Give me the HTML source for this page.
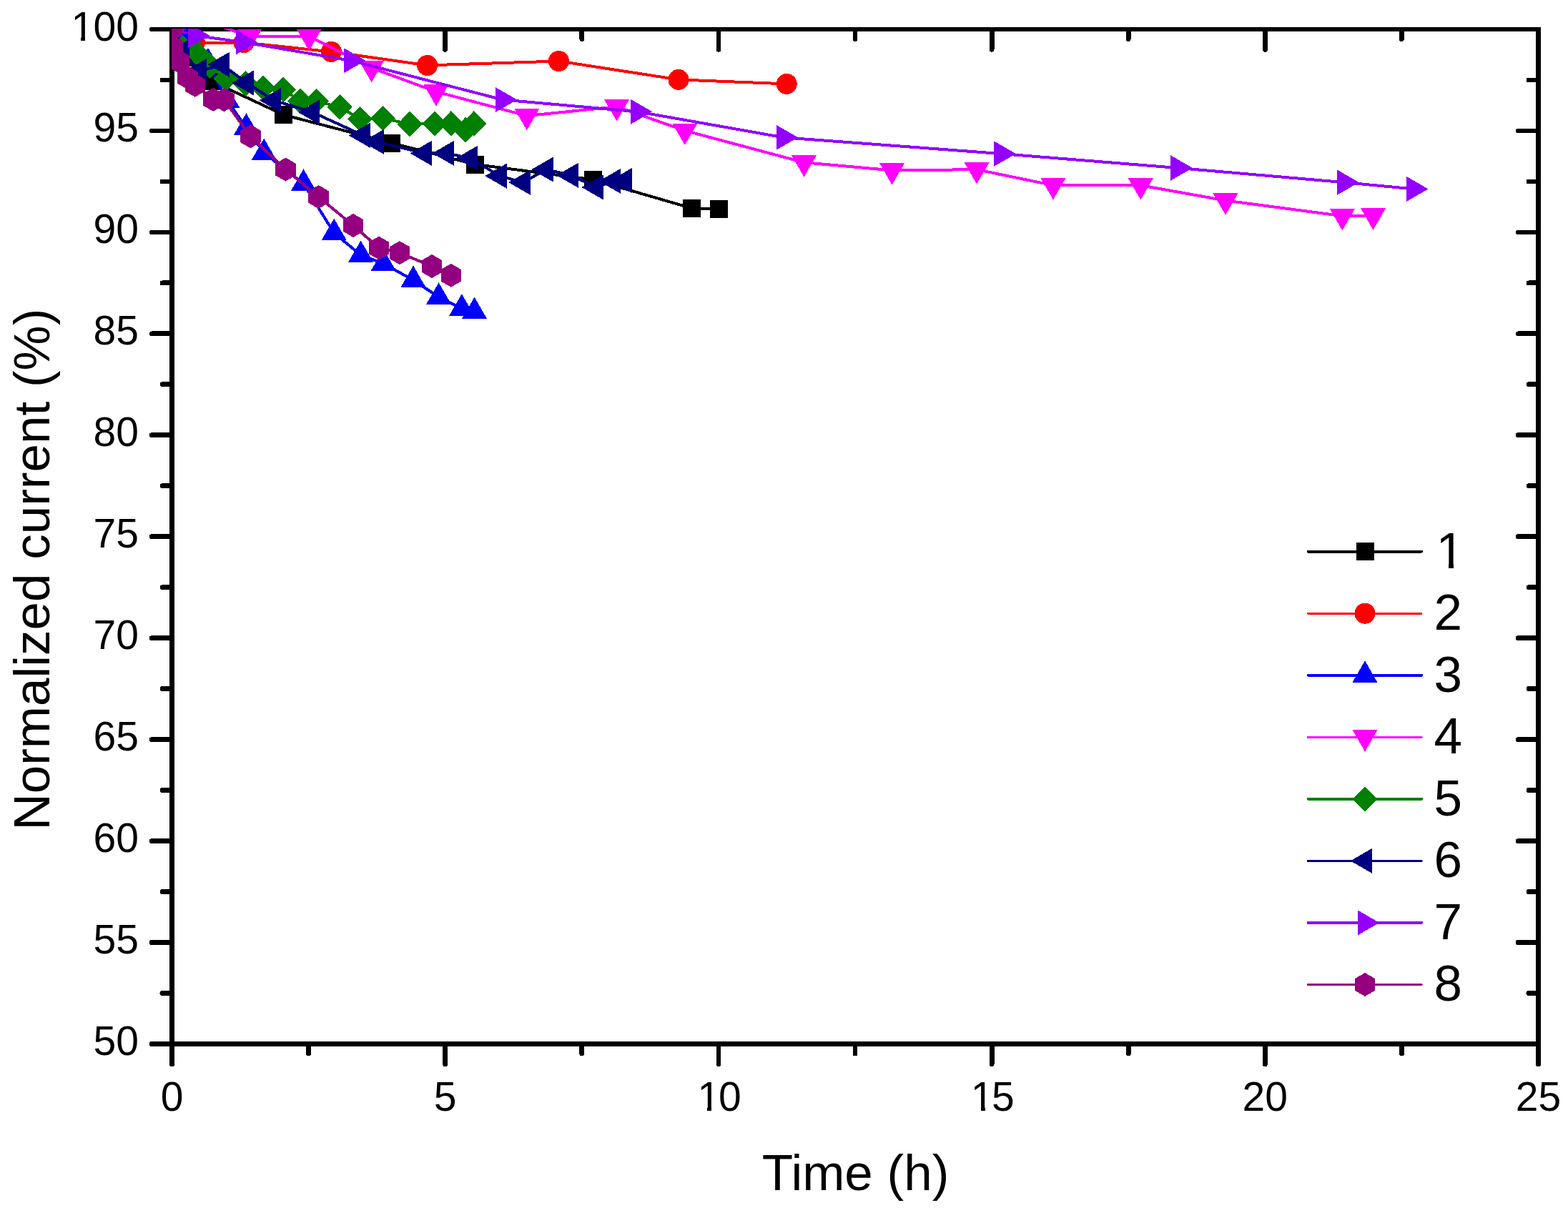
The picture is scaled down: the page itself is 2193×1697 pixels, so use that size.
<!DOCTYPE html>
<html><head><meta charset="utf-8"><title>Normalized current vs time</title>
<style>html,body{margin:0;padding:0;background:#fff;}svg{display:block;}</style></head><body>
<svg width="2193" height="1697" viewBox="0 0 2193 1697" shape-rendering="crispEdges">
<defs>
<g id="m_sq"><rect x="-12.5" y="-12.5" width="25" height="25"/></g>
<g id="m_ci"><circle r="14.5"/></g>
<g id="m_up"><polygon points="0,-20.3 17.58,10.15 -17.58,10.15"/></g>
<g id="m_dn"><polygon points="0,20.3 17.58,-10.15 -17.58,-10.15"/></g>
<g id="m_lt"><polygon points="-20.3,0 10.15,-17.58 10.15,17.58"/></g>
<g id="m_rt"><polygon points="20.3,0 -10.15,-17.58 -10.15,17.58"/></g>
<g id="m_di"><polygon points="0,-17.8 17.6,0 0,17.8 -17.6,0"/></g>
<g id="m_hx"><polygon points="0,-16.5 14.29,-8.25 14.29,8.25 0,16.5 -14.29,8.25 -14.29,-8.25"/></g>
<clipPath id="plot"><rect x="240.0" y="40.0" width="1911.5" height="1420.5"/></clipPath>
</defs>
<rect x="0" y="0" width="2193" height="1697" fill="#fff"/>
<g stroke="#000" stroke-width="6.8" stroke-linecap="round" fill="none">
<rect x="240.5" y="41.0" width="1911.0" height="1419.5" stroke-linecap="square" stroke-linejoin="miter"/>
<line x1="240.5" y1="1460.5" x2="240.5" y2="1488.8"/>
<line x1="431.6" y1="1460.5" x2="431.6" y2="1474.1"/>
<line x1="431.6" y1="41.0" x2="431.6" y2="54.6"/>
<line x1="622.7" y1="1460.5" x2="622.7" y2="1488.8"/>
<line x1="622.7" y1="41.0" x2="622.7" y2="69.3"/>
<line x1="813.8" y1="1460.5" x2="813.8" y2="1474.1"/>
<line x1="813.8" y1="41.0" x2="813.8" y2="54.6"/>
<line x1="1004.9" y1="1460.5" x2="1004.9" y2="1488.8"/>
<line x1="1004.9" y1="41.0" x2="1004.9" y2="69.3"/>
<line x1="1196" y1="1460.5" x2="1196" y2="1474.1"/>
<line x1="1196" y1="41.0" x2="1196" y2="54.6"/>
<line x1="1387.1" y1="1460.5" x2="1387.1" y2="1488.8"/>
<line x1="1387.1" y1="41.0" x2="1387.1" y2="69.3"/>
<line x1="1578.2" y1="1460.5" x2="1578.2" y2="1474.1"/>
<line x1="1578.2" y1="41.0" x2="1578.2" y2="54.6"/>
<line x1="1769.3" y1="1460.5" x2="1769.3" y2="1488.8"/>
<line x1="1769.3" y1="41.0" x2="1769.3" y2="69.3"/>
<line x1="1960.4" y1="1460.5" x2="1960.4" y2="1474.1"/>
<line x1="1960.4" y1="41.0" x2="1960.4" y2="54.6"/>
<line x1="2151.5" y1="1460.5" x2="2151.5" y2="1488.8"/>
<line x1="240.5" y1="41" x2="212.2" y2="41"/>
<line x1="240.5" y1="111.97" x2="226.9" y2="111.97"/>
<line x1="2151.5" y1="111.97" x2="2137.9" y2="111.97"/>
<line x1="240.5" y1="182.95" x2="212.2" y2="182.95"/>
<line x1="2151.5" y1="182.95" x2="2123.2" y2="182.95"/>
<line x1="240.5" y1="253.93" x2="226.9" y2="253.93"/>
<line x1="2151.5" y1="253.93" x2="2137.9" y2="253.93"/>
<line x1="240.5" y1="324.9" x2="212.2" y2="324.9"/>
<line x1="2151.5" y1="324.9" x2="2123.2" y2="324.9"/>
<line x1="240.5" y1="395.88" x2="226.9" y2="395.88"/>
<line x1="2151.5" y1="395.88" x2="2137.9" y2="395.88"/>
<line x1="240.5" y1="466.85" x2="212.2" y2="466.85"/>
<line x1="2151.5" y1="466.85" x2="2123.2" y2="466.85"/>
<line x1="240.5" y1="537.83" x2="226.9" y2="537.83"/>
<line x1="2151.5" y1="537.83" x2="2137.9" y2="537.83"/>
<line x1="240.5" y1="608.8" x2="212.2" y2="608.8"/>
<line x1="2151.5" y1="608.8" x2="2123.2" y2="608.8"/>
<line x1="240.5" y1="679.77" x2="226.9" y2="679.77"/>
<line x1="2151.5" y1="679.77" x2="2137.9" y2="679.77"/>
<line x1="240.5" y1="750.75" x2="212.2" y2="750.75"/>
<line x1="2151.5" y1="750.75" x2="2123.2" y2="750.75"/>
<line x1="240.5" y1="821.73" x2="226.9" y2="821.73"/>
<line x1="2151.5" y1="821.73" x2="2137.9" y2="821.73"/>
<line x1="240.5" y1="892.7" x2="212.2" y2="892.7"/>
<line x1="2151.5" y1="892.7" x2="2123.2" y2="892.7"/>
<line x1="240.5" y1="963.67" x2="226.9" y2="963.67"/>
<line x1="2151.5" y1="963.67" x2="2137.9" y2="963.67"/>
<line x1="240.5" y1="1034.65" x2="212.2" y2="1034.65"/>
<line x1="2151.5" y1="1034.65" x2="2123.2" y2="1034.65"/>
<line x1="240.5" y1="1105.62" x2="226.9" y2="1105.62"/>
<line x1="2151.5" y1="1105.62" x2="2137.9" y2="1105.62"/>
<line x1="240.5" y1="1176.6" x2="212.2" y2="1176.6"/>
<line x1="2151.5" y1="1176.6" x2="2123.2" y2="1176.6"/>
<line x1="240.5" y1="1247.58" x2="226.9" y2="1247.58"/>
<line x1="2151.5" y1="1247.58" x2="2137.9" y2="1247.58"/>
<line x1="240.5" y1="1318.55" x2="212.2" y2="1318.55"/>
<line x1="2151.5" y1="1318.55" x2="2123.2" y2="1318.55"/>
<line x1="240.5" y1="1389.53" x2="226.9" y2="1389.53"/>
<line x1="2151.5" y1="1389.53" x2="2137.9" y2="1389.53"/>
<line x1="240.5" y1="1460.5" x2="212.2" y2="1460.5"/>
</g>
<g clip-path="url(#plot)">
<polyline points="240.5,41 255,80 295.5,113.4 396.4,160.5 547.5,200 664.5,230 829.5,251.3 967.4,291.3 1005.4,292.3" fill="none" stroke="#000000" stroke-width="4" stroke-linejoin="round" stroke-linecap="round"/>
<g fill="#000000">
<use href="#m_sq" x="240.5" y="41"/>
<use href="#m_sq" x="255" y="80"/>
<use href="#m_sq" x="295.5" y="113.4"/>
<use href="#m_sq" x="396.4" y="160.5"/>
<use href="#m_sq" x="547.5" y="200"/>
<use href="#m_sq" x="664.5" y="230"/>
<use href="#m_sq" x="829.5" y="251.3"/>
<use href="#m_sq" x="967.4" y="291.3"/>
<use href="#m_sq" x="1005.4" y="292.3"/>
</g>
<polyline points="240.5,41 272.4,59.8 341.1,59.5 463.3,72.4 597.6,91.4 781.4,85.5 949,111.4 1100.2,117.4" fill="none" stroke="#ff0000" stroke-width="4" stroke-linejoin="round" stroke-linecap="round"/>
<g fill="#ff0000">
<use href="#m_ci" x="240.5" y="41"/>
<use href="#m_ci" x="272.4" y="59.8"/>
<use href="#m_ci" x="341.1" y="59.5"/>
<use href="#m_ci" x="463.3" y="72.4"/>
<use href="#m_ci" x="597.6" y="91.4"/>
<use href="#m_ci" x="781.4" y="85.5"/>
<use href="#m_ci" x="949" y="111.4"/>
<use href="#m_ci" x="1100.2" y="117.4"/>
</g>
<polyline points="240.5,41 257,50 291,87 317.7,140.6 344.5,178.6 369.2,213.9 424.5,256.8 467.2,326 504.6,356.8 536.3,368.7 578,391.9 613.6,415.6 645.8,431.4 663.6,435.9" fill="none" stroke="#0000ff" stroke-width="4" stroke-linejoin="round" stroke-linecap="round"/>
<g fill="#0000ff">
<use href="#m_up" x="240.5" y="41"/>
<use href="#m_up" x="257" y="50"/>
<use href="#m_up" x="291" y="87"/>
<use href="#m_up" x="317.7" y="140.6"/>
<use href="#m_up" x="344.5" y="178.6"/>
<use href="#m_up" x="369.2" y="213.9"/>
<use href="#m_up" x="424.5" y="256.8"/>
<use href="#m_up" x="467.2" y="326"/>
<use href="#m_up" x="504.6" y="356.8"/>
<use href="#m_up" x="536.3" y="368.7"/>
<use href="#m_up" x="578" y="391.9"/>
<use href="#m_up" x="613.6" y="415.6"/>
<use href="#m_up" x="645.8" y="431.4"/>
<use href="#m_up" x="663.6" y="435.9"/>
</g>
<polyline points="240.5,13 348.7,50.9 432.3,50.8 519.6,95 610,128.3 736.8,162 862.5,149.2 957.8,182.7 1124.5,227.3 1247.6,238.3 1366.1,237.2 1473,259.2 1595.3,259.3 1714,280.5 1877.3,302.1 1920.5,301.4" fill="none" stroke="#ff00ff" stroke-width="4" stroke-linejoin="round" stroke-linecap="round"/>
<g fill="#ff00ff">
<use href="#m_dn" x="240.5" y="13"/>
<use href="#m_dn" x="348.7" y="50.9"/>
<use href="#m_dn" x="432.3" y="50.8"/>
<use href="#m_dn" x="519.6" y="95"/>
<use href="#m_dn" x="610" y="128.3"/>
<use href="#m_dn" x="736.8" y="162"/>
<use href="#m_dn" x="862.5" y="149.2"/>
<use href="#m_dn" x="957.8" y="182.7"/>
<use href="#m_dn" x="1124.5" y="227.3"/>
<use href="#m_dn" x="1247.6" y="238.3"/>
<use href="#m_dn" x="1366.1" y="237.2"/>
<use href="#m_dn" x="1473" y="259.2"/>
<use href="#m_dn" x="1595.3" y="259.3"/>
<use href="#m_dn" x="1714" y="280.5"/>
<use href="#m_dn" x="1877.3" y="302.1"/>
<use href="#m_dn" x="1920.5" y="301.4"/>
</g>
<polyline points="240.5,41 268.5,53.7 276,75 293.6,92.2 316,110 343.5,117 368,123 396.3,125.3 419.9,141.5 442.3,141.6 475.2,149.8 503.5,166.4 535.5,165.6 573.1,173.6 608,172.9 630.9,172.9 651.1,181.7 662.8,173" fill="none" stroke="#008000" stroke-width="4" stroke-linejoin="round" stroke-linecap="round"/>
<g fill="#008000">
<use href="#m_di" x="240.5" y="41"/>
<use href="#m_di" x="268.5" y="53.7"/>
<use href="#m_di" x="276" y="75"/>
<use href="#m_di" x="293.6" y="92.2"/>
<use href="#m_di" x="316" y="110"/>
<use href="#m_di" x="343.5" y="117"/>
<use href="#m_di" x="368" y="123"/>
<use href="#m_di" x="396.3" y="125.3"/>
<use href="#m_di" x="419.9" y="141.5"/>
<use href="#m_di" x="442.3" y="141.6"/>
<use href="#m_di" x="475.2" y="149.8"/>
<use href="#m_di" x="503.5" y="166.4"/>
<use href="#m_di" x="535.5" y="165.6"/>
<use href="#m_di" x="573.1" y="173.6"/>
<use href="#m_di" x="608" y="172.9"/>
<use href="#m_di" x="630.9" y="172.9"/>
<use href="#m_di" x="651.1" y="181.7"/>
<use href="#m_di" x="662.8" y="173"/>
</g>
<polyline points="240.5,41 255,72 279,99.5 310.8,90.3 344.9,116 383.1,140.4 437.1,157 507.7,189.3 527,198.4 593.7,214.4 624.9,214.4 657.9,221.4 698.6,246.1 731.6,255.2 763.7,237.1 798.8,245.3 833.8,262 858,253.4 873.8,252.5" fill="none" stroke="#000080" stroke-width="4" stroke-linejoin="round" stroke-linecap="round"/>
<g fill="#000080">
<use href="#m_lt" x="240.5" y="41"/>
<use href="#m_lt" x="255" y="72"/>
<use href="#m_lt" x="279" y="99.5"/>
<use href="#m_lt" x="310.8" y="90.3"/>
<use href="#m_lt" x="344.9" y="116"/>
<use href="#m_lt" x="383.1" y="140.4"/>
<use href="#m_lt" x="437.1" y="157"/>
<use href="#m_lt" x="507.7" y="189.3"/>
<use href="#m_lt" x="527" y="198.4"/>
<use href="#m_lt" x="593.7" y="214.4"/>
<use href="#m_lt" x="624.9" y="214.4"/>
<use href="#m_lt" x="657.9" y="221.4"/>
<use href="#m_lt" x="698.6" y="246.1"/>
<use href="#m_lt" x="731.6" y="255.2"/>
<use href="#m_lt" x="763.7" y="237.1"/>
<use href="#m_lt" x="798.8" y="245.3"/>
<use href="#m_lt" x="833.8" y="262"/>
<use href="#m_lt" x="858" y="253.4"/>
<use href="#m_lt" x="873.8" y="252.5"/>
</g>
<rect x="255" y="55.5" width="10.2" height="24" fill="#000080"/>
<polyline points="240.5,41 272.8,49.7 340,59 491,84.8 702.9,139.5 892.1,156.3 1095.8,192.3 1400.6,215.1 1647.6,235 1880.4,255.2 1977.2,264.4" fill="none" stroke="#9400ff" stroke-width="4" stroke-linejoin="round" stroke-linecap="round"/>
<g fill="#9400ff">
<use href="#m_rt" x="240.5" y="41"/>
<use href="#m_rt" x="272.8" y="49.7"/>
<use href="#m_rt" x="340" y="59"/>
<use href="#m_rt" x="491" y="84.8"/>
<use href="#m_rt" x="702.9" y="139.5"/>
<use href="#m_rt" x="892.1" y="156.3"/>
<use href="#m_rt" x="1095.8" y="192.3"/>
<use href="#m_rt" x="1400.6" y="215.1"/>
<use href="#m_rt" x="1647.6" y="235"/>
<use href="#m_rt" x="1880.4" y="255.2"/>
<use href="#m_rt" x="1977.2" y="264.4"/>
</g>
<polyline points="240.5,41 241.5,64.7 250.6,86 262.3,108.5 272.8,119.3 298.2,139.4 313.4,139.7 350.4,190.9 399.5,237.1 445.5,275.5 494.1,315.5 530,347 558.9,353.7 604,372.5 630.8,385.3" fill="none" stroke="#940080" stroke-width="4" stroke-linejoin="round" stroke-linecap="round"/>
<g fill="#940080">
<use href="#m_hx" x="240.5" y="41"/>
<use href="#m_hx" x="241.5" y="64.7"/>
<use href="#m_hx" x="250.6" y="86"/>
<use href="#m_hx" x="262.3" y="108.5"/>
<use href="#m_hx" x="272.8" y="119.3"/>
<use href="#m_hx" x="298.2" y="139.4"/>
<use href="#m_hx" x="313.4" y="139.7"/>
<use href="#m_hx" x="350.4" y="190.9"/>
<use href="#m_hx" x="399.5" y="237.1"/>
<use href="#m_hx" x="445.5" y="275.5"/>
<use href="#m_hx" x="494.1" y="315.5"/>
<use href="#m_hx" x="530" y="347"/>
<use href="#m_hx" x="558.9" y="353.7"/>
<use href="#m_hx" x="604" y="372.5"/>
<use href="#m_hx" x="630.8" y="385.3"/>
</g>
<polygon points="253.9,46.9 262.8,46.9 262.8,55.9 255.4,49.2 253.9,49.2" fill="#0000ff"/>
<polygon points="258,43.6 260.2,40 262.8,40 262.8,44.6 260.2,44.6" fill="#0000ff"/>
<polygon points="250.9,53.45 255.4,49.1 262.8,55.9 256.8,59.9" fill="#008000"/>
<polygon points="247.9,53.45 249.4,52 250.9,52 250.9,54.9 249.4,54.9" fill="#000080"/>
</g>
<g font-family='"Liberation Sans", Arial, sans-serif' font-size="57" fill="#000">
<text y="1553.5"><tspan x="224.65">0</tspan></text>
<text y="1553.5"><tspan x="606.85">5</tspan></text>
<text y="1553.5"><tspan x="975.5">1</tspan><tspan x="1004.9">0</tspan></text>
<text y="1553.5"><tspan x="1357.7">1</tspan><tspan x="1387.1">5</tspan></text>
<text y="1553.5"><tspan x="1737.6">2</tspan><tspan x="1769.3">0</tspan></text>
<text y="1553.5"><tspan x="2119.8">2</tspan><tspan x="2151.5">5</tspan></text>
<text y="56.5"><tspan x="99.6">1</tspan><tspan x="130.6">0</tspan><tspan x="162.3">0</tspan></text>
<text y="198.45"><tspan x="130.6">9</tspan><tspan x="162.3">5</tspan></text>
<text y="340.4"><tspan x="130.6">9</tspan><tspan x="162.3">0</tspan></text>
<text y="482.35"><tspan x="130.6">8</tspan><tspan x="162.3">5</tspan></text>
<text y="624.3"><tspan x="130.6">8</tspan><tspan x="162.3">0</tspan></text>
<text y="766.25"><tspan x="130.6">7</tspan><tspan x="162.3">5</tspan></text>
<text y="908.2"><tspan x="130.6">7</tspan><tspan x="162.3">0</tspan></text>
<text y="1050.15"><tspan x="130.6">6</tspan><tspan x="162.3">5</tspan></text>
<text y="1192.1"><tspan x="130.6">6</tspan><tspan x="162.3">0</tspan></text>
<text y="1334.05"><tspan x="130.6">5</tspan><tspan x="162.3">5</tspan></text>
<text y="1476"><tspan x="130.6">5</tspan><tspan x="162.3">0</tspan></text>
</g>
<text x="1196.5" y="1664.8" text-anchor="middle" font-family='"Liberation Sans", Arial, sans-serif' font-size="71">Time (h)</text>
<text transform="translate(69,796.6) rotate(-90)" x="0" y="0" text-anchor="middle" font-family='"Liberation Sans", Arial, sans-serif' font-size="71">Normalized current (%)</text>
<g>
<line x1="1829.5" y1="771.6" x2="1988" y2="771.6" stroke="#000000" stroke-width="4" stroke-linecap="round"/>
<use href="#m_sq" x="1909" y="771.6" fill="#000000"/>
<text x="2008.5" y="794.6" font-family='"Liberation Sans", Arial, sans-serif' font-size="71" fill="#000">1</text>
<line x1="1829.5" y1="858.15" x2="1988" y2="858.15" stroke="#ff0000" stroke-width="3.2" stroke-linecap="round"/>
<use href="#m_ci" x="1909" y="858.15" fill="#ff0000"/>
<text x="2005.5" y="881.15" font-family='"Liberation Sans", Arial, sans-serif' font-size="71" fill="#000">2</text>
<line x1="1829.5" y1="944.7" x2="1988" y2="944.7" stroke="#0000ff" stroke-width="4" stroke-linecap="round"/>
<use href="#m_up" x="1909" y="944.7" fill="#0000ff"/>
<text x="2005.5" y="967.7" font-family='"Liberation Sans", Arial, sans-serif' font-size="71" fill="#000">3</text>
<line x1="1829.5" y1="1031.25" x2="1988" y2="1031.25" stroke="#ff00ff" stroke-width="3.2" stroke-linecap="round"/>
<use href="#m_dn" x="1909" y="1031.25" fill="#ff00ff"/>
<text x="2005.5" y="1054.25" font-family='"Liberation Sans", Arial, sans-serif' font-size="71" fill="#000">4</text>
<line x1="1829.5" y1="1117.8" x2="1988" y2="1117.8" stroke="#008000" stroke-width="4" stroke-linecap="round"/>
<use href="#m_di" x="1909" y="1117.8" fill="#008000"/>
<text x="2005.5" y="1140.8" font-family='"Liberation Sans", Arial, sans-serif' font-size="71" fill="#000">5</text>
<line x1="1829.5" y1="1204.35" x2="1988" y2="1204.35" stroke="#000080" stroke-width="3.2" stroke-linecap="round"/>
<use href="#m_lt" x="1909" y="1204.35" fill="#000080"/>
<text x="2005.5" y="1227.35" font-family='"Liberation Sans", Arial, sans-serif' font-size="71" fill="#000">6</text>
<line x1="1829.5" y1="1290.9" x2="1988" y2="1290.9" stroke="#9400ff" stroke-width="4" stroke-linecap="round"/>
<use href="#m_rt" x="1909" y="1290.9" fill="#9400ff"/>
<text x="2005.5" y="1313.9" font-family='"Liberation Sans", Arial, sans-serif' font-size="71" fill="#000">7</text>
<line x1="1829.5" y1="1377.45" x2="1988" y2="1377.45" stroke="#940080" stroke-width="3.2" stroke-linecap="round"/>
<use href="#m_hx" x="1909" y="1377.45" fill="#940080"/>
<text x="2005.5" y="1400.45" font-family='"Liberation Sans", Arial, sans-serif' font-size="71" fill="#000">8</text>
</g>
<g fill="#fff" shape-rendering="crispEdges"><rect x="103.27" y="51.64" width="10.16" height="5.86"/><rect x="119.47" y="51.64" width="9.71" height="5.86"/><rect x="979.17" y="1548.64" width="10.16" height="5.86"/><rect x="995.37" y="1548.64" width="9.71" height="5.86"/><rect x="1361.37" y="1548.64" width="10.16" height="5.86"/><rect x="1377.57" y="1548.64" width="9.71" height="5.86"/><rect x="2013.2" y="788.7" width="12.65" height="6.9"/><rect x="2033.13" y="788.7" width="12.1" height="6.9"/></g>
</svg></body></html>
